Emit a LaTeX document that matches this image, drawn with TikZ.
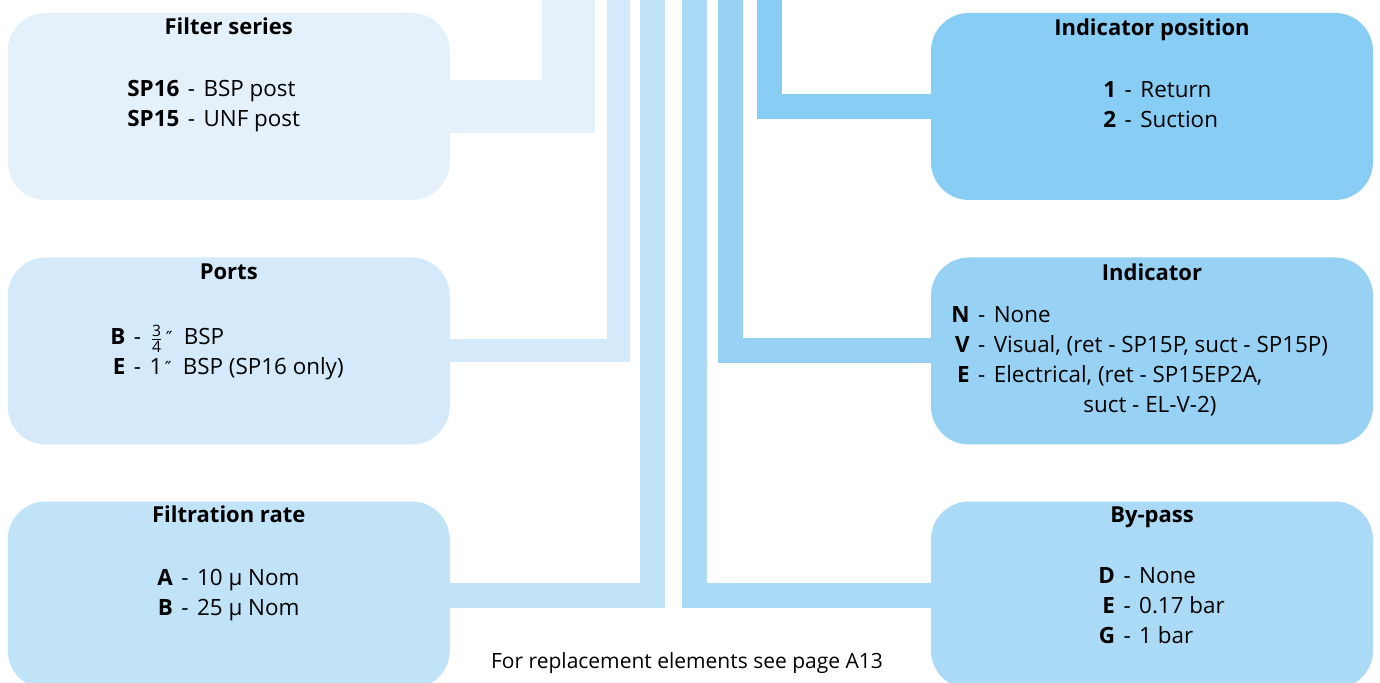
\documentclass[tikz,border=0pt]{standalone}
\usepackage{amsmath}
\usepackage{fontspec}
\setmainfont{Open Sans}
\newfontfamily\djv{DejaVu Sans}
\usetikzlibrary{backgrounds}
\definecolor{cA}{HTML}{E4F1FB}
\definecolor{cB}{HTML}{D4EAFA}
\definecolor{cC}{HTML}{C0E3F8}
\definecolor{cD}{HTML}{ABDAF6}
\definecolor{cE}{HTML}{97D1F4}
\definecolor{cF}{HTML}{88CDF4}
\newcommand\dprime{\kern1.2pt{\djv\fontsize{9}{9}\selectfont ″}\hspace{0.5em}}
\newcommand\tq{$\tfrac{\text{3}}{\text{4}}$}
\newcommand\dsh{\hspace{0.38em}-\hspace{0.38em}}
\begin{document}
\begin{tikzpicture}[x=0.5pt,y=-0.5pt,
  box/.style={rounded corners=19pt, minimum width=221pt, minimum height=93.5pt, inner sep=0pt, draw=none},
  bar/.style={line cap=butt, line join=miter},
  ttl/.style={anchor=base, font=\bfseries\fontsize{11}{13}\selectfont, inner sep=0pt},
  txt/.style={anchor=base west, font=\fontsize{11.2}{15}\selectfont, inner sep=0pt, align=left},
  note/.style={anchor=base, font=\fontsize{10.5}{12}\selectfont, inner sep=0pt}]
\useasboundingbox (0,0) rectangle (1380,683);
\clip (0,0) rectangle (1380,683);
% boxes
\node[box, fill=cA] (fs) at (228.75,106.5) {};
\node[box, fill=cB] (po) at (228.75,351) {};
\node[box, fill=cC] (fr) at (228.75,595) {};
\node[box, fill=cF] (ip) at (1152,106.5) {};
\node[box, fill=cE] (in) at (1152,351) {};
\node[box, fill=cD] (bp) at (1152,595) {};
% top ends of the connectors
\coordinate (tA) at (568.5,-10);
\coordinate (tB) at (618.5,-10);
\coordinate (tC) at (652.5,-10);
\coordinate (tD) at (694.5,-10);
\coordinate (tE) at (730.5,-10);
\coordinate (tF) at (769.5,-10);
\begin{scope}[on background layer]
\draw[bar, cA, line width=26.5pt] (tA) |- (fs.center);
\draw[bar, cB, line width=11.5pt] (tB) |- (po.center);
\draw[bar, cC, line width=12.5pt] (tC) |- (fr.center);
\draw[bar, cD, line width=12.5pt] (tD) |- (bp.center);
\draw[bar, cE, line width=12.5pt] (tE) |- (in.center);
\draw[bar, cF, line width=12.5pt] (tF) |- (ip.center);
\end{scope}
% titles
\node[ttl] (fst) at (228.75,35) {Filter series};
\node[ttl] (pot) at (228.75,280) {Ports};
\node[ttl] (frt) at (228.75,523) {Filtration rate};
\node[ttl] (ipt) at (1152,36) {Indicator position};
\node[ttl] (int) at (1152,281) {Indicator};
\node[ttl] (bpt) at (1152,523) {By-pass};
% contents
\node[txt] (fsx) at (127,97) {\begin{tabular}[t]{@{}r@{\dsh}l@{}}\textbf{SP16} & BSP post\\ \textbf{SP15} & UNF post\end{tabular}};
\node[txt] (pox) at (110,345) {\begin{tabular}[t]{@{}r@{\dsh}l@{}}\textbf{B} & \tq\dprime BSP\\ \textbf{E} & 1\dprime BSP (SP16 only)\end{tabular}};
\node[txt] (frx) at (157,585) {\begin{tabular}[t]{@{}r@{\dsh}l@{}}\textbf{A} & 10 µ Nom\\ \textbf{B} & 25 µ Nom\end{tabular}};
\node[txt] (ipx) at (1103,98) {\begin{tabular}[t]{@{}r@{\dsh}l@{}}\textbf{1} & Return\\ \textbf{2} & Suction\end{tabular}};
\node[txt] (inx) at (951,323) {\begin{tabular}[t]{@{}r@{\dsh}l@{}}\textbf{N} & None\\ \textbf{V} & Visual, (ret - SP15P, suct - SP15P)\\ \textbf{E} & Electrical, (ret - SP15EP2A,\\ \multicolumn{2}{@{}l@{}}{\hspace{66pt}suct - EL-V-2)}\end{tabular}};
\node[txt] (bpx) at (1098,583) {\begin{tabular}[t]{@{}r@{\dsh}l@{}}\textbf{D} & None\\ \textbf{E} & 0.17 bar\\ \textbf{G} & 1 bar\end{tabular}};
\node[note] (nt) at (687,668) {For replacement elements see page A13};
\end{tikzpicture}
\end{document}
